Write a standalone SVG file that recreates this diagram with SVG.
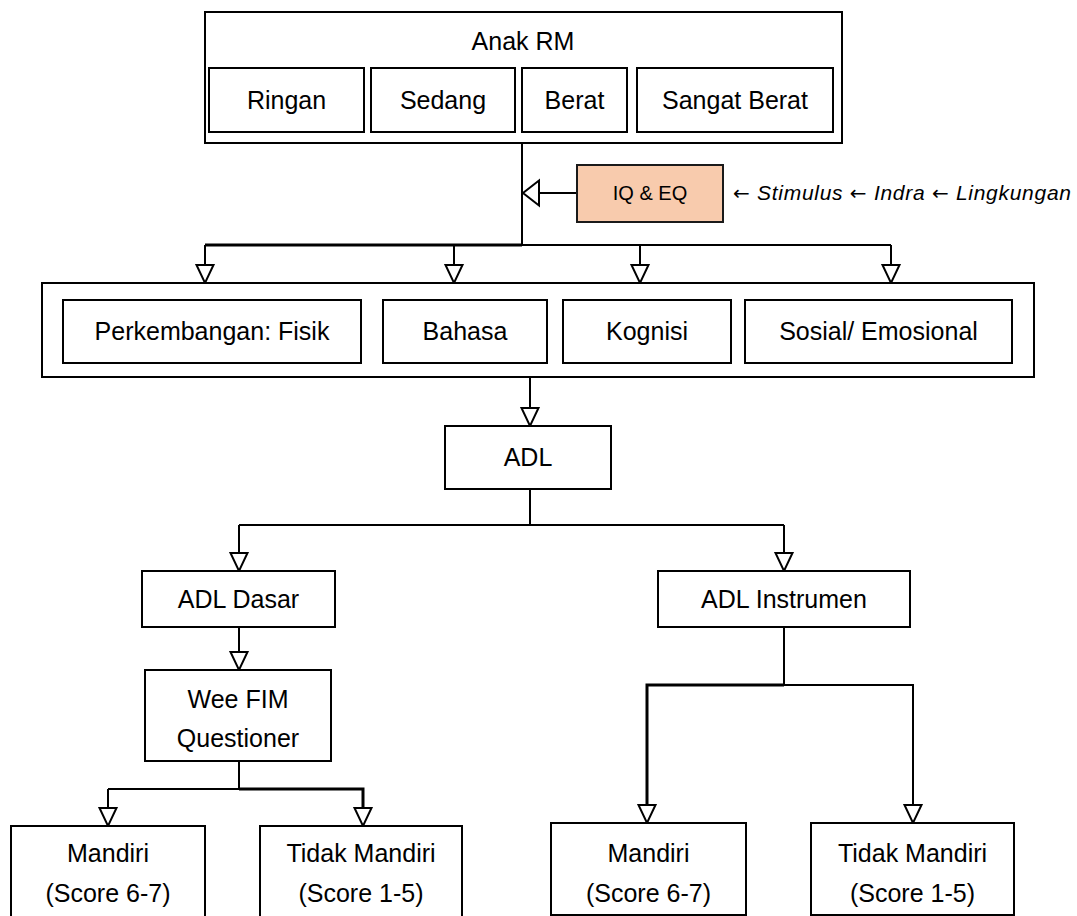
<svg xmlns="http://www.w3.org/2000/svg" xmlns:xlink="http://www.w3.org/1999/xlink" width="1077" height="916" viewBox="0 0 1077 916">
  <style>
    .box { fill: #ffffff; stroke: #000000; stroke-width: 2; }
    .hl { fill: #f8cbad; stroke: #1a1a1a; stroke-width: 2; }
    .lbl { font-family: "Liberation Sans", Arial, sans-serif; font-size: 25px; fill: #000000; text-anchor: middle; }
    .small { font-size: 20px; }
    .note { font-family: "Liberation Sans", Arial, sans-serif; font-size: 21px; font-style: italic; fill: #000000; }
    .arr { font-family: "DejaVu Sans", sans-serif; font-style: normal; font-size: 20px; }
    .wire { fill: none; stroke: #000000; stroke-width: 2; }
    .bold { stroke-width: 3; }
    .head { fill: #ffffff; stroke: #000000; stroke-width: 2; stroke-linejoin: miter; }
  </style>
  <defs>
    <!-- hollow arrowheads, tip at the origin -->
    <polygon id="down" class="head" points="-8.5,-18 8.5,-18 0,0"/>
    <polygon id="left" class="head" points="16,-12.5 16,12.5 0,0"/>
  </defs>

  <rect width="1077" height="916" fill="#ffffff"/>

  <!-- connectors -->
  <g id="connectors">
    <!-- Anak RM to development branches -->
    <path class="wire" d="M522 143 V245"/>
    <path class="wire bold" d="M205 245 H522"/>
    <path class="wire" d="M522 245 H891"/>
    <path class="wire" d="M205 245 V265 M454 245 V265 M640 245 V265 M891 245 V265"/>
    <use xlink:href="#down" x="205" y="283"/>
    <use xlink:href="#down" x="454" y="283"/>
    <use xlink:href="#down" x="640" y="283"/>
    <use xlink:href="#down" x="891" y="283"/>
    <!-- IQ & EQ into the trunk -->
    <path class="wire" d="M577 193 H538"/>
    <use xlink:href="#left" x="523" y="193"/>
    <!-- development to ADL -->
    <path class="wire" d="M530 377 V408"/>
    <use xlink:href="#down" x="530" y="426"/>
    <!-- ADL split -->
    <path class="wire" d="M530 489 V525 M239 525 H784 M239 525 V553 M784 525 V553"/>
    <use xlink:href="#down" x="239" y="571"/>
    <use xlink:href="#down" x="784" y="571"/>
    <!-- ADL Dasar to Wee FIM -->
    <path class="wire" d="M239 627 V652"/>
    <use xlink:href="#down" x="239" y="670"/>
    <!-- Wee FIM split -->
    <path class="wire" d="M239 761 V789 M108 789 H239 M108 789 V808"/>
    <path class="wire bold" d="M239 789 H363 V808"/>
    <use xlink:href="#down" x="108" y="826"/>
    <use xlink:href="#down" x="363" y="826"/>
    <!-- ADL Instrumen split -->
    <path class="wire" d="M784 627 V685 M784 685 H913 V805"/>
    <path class="wire bold" d="M784 685 H647 V805"/>
    <use xlink:href="#down" x="647" y="823"/>
    <use xlink:href="#down" x="913" y="823"/>
  </g>

  <g id="anak-rm">
    <rect class="box" x="205" y="12" width="637" height="131"/>
    <text class="lbl" x="523" y="50">Anak RM</text>
  </g>
  <g id="ringan">
    <rect class="box" x="209" y="68" width="155" height="64"/>
    <text class="lbl" x="286.5" y="109">Ringan</text>
  </g>
  <g id="sedang">
    <rect class="box" x="371" y="68" width="144" height="64"/>
    <text class="lbl" x="443" y="109">Sedang</text>
  </g>
  <g id="berat">
    <rect class="box" x="522" y="68" width="105" height="64"/>
    <text class="lbl" x="574.5" y="109">Berat</text>
  </g>
  <g id="sangat-berat">
    <rect class="box" x="637" y="68" width="196" height="64"/>
    <text class="lbl" x="735" y="109">Sangat Berat</text>
  </g>

  <g id="iq-eq">
    <rect class="hl" x="577" y="165" width="146" height="57"/>
    <text class="lbl small" x="650" y="200">IQ &amp; EQ</text>
  </g>
  <g id="faktor">
    <text class="note" x="733" y="200" textLength="338" lengthAdjust="spacing"><tspan class="arr">←</tspan> Stimulus <tspan class="arr">←</tspan> Indra <tspan class="arr">←</tspan> Lingkungan</text>
  </g>

  <g id="perkembangan">
    <rect class="box" x="42" y="283" width="992" height="94"/>
  </g>
  <g id="fisik">
    <rect class="box" x="63" y="300" width="298" height="63"/>
    <text class="lbl" x="212" y="340">Perkembangan: Fisik</text>
  </g>
  <g id="bahasa">
    <rect class="box" x="383" y="300" width="164" height="63"/>
    <text class="lbl" x="465" y="340">Bahasa</text>
  </g>
  <g id="kognisi">
    <rect class="box" x="563" y="300" width="168" height="63"/>
    <text class="lbl" x="647" y="340">Kognisi</text>
  </g>
  <g id="sosial">
    <rect class="box" x="745" y="300" width="267" height="63"/>
    <text class="lbl" x="878.5" y="340">Sosial/ Emosional</text>
  </g>

  <g id="adl">
    <rect class="box" x="445" y="426" width="166" height="63"/>
    <text class="lbl" x="528" y="466">ADL</text>
  </g>
  <g id="adl-dasar">
    <rect class="box" x="142" y="571" width="193" height="56"/>
    <text class="lbl" x="238.5" y="608">ADL Dasar</text>
  </g>
  <g id="adl-instrumen">
    <rect class="box" x="658" y="571" width="252" height="56"/>
    <text class="lbl" x="784" y="608">ADL Instrumen</text>
  </g>
  <g id="wee-fim">
    <rect class="box" x="145" y="670" width="186" height="91"/>
    <text class="lbl" x="238" y="708">Wee FIM</text>
    <text class="lbl" x="238" y="747">Questioner</text>
  </g>

  <g id="mandiri-dasar">
    <rect class="box" x="11" y="826" width="194" height="95"/>
    <text class="lbl" x="108" y="862">Mandiri</text>
    <text class="lbl" x="108" y="902">(Score 6-7)</text>
  </g>
  <g id="tidak-mandiri-dasar">
    <rect class="box" x="260" y="826" width="202" height="95"/>
    <text class="lbl" x="361" y="862">Tidak Mandiri</text>
    <text class="lbl" x="361" y="902">(Score 1-5)</text>
  </g>
  <g id="mandiri-instrumen">
    <rect class="box" x="551" y="823" width="195" height="92"/>
    <text class="lbl" x="648.5" y="862">Mandiri</text>
    <text class="lbl" x="648.5" y="902">(Score 6-7)</text>
  </g>
  <g id="tidak-mandiri-instrumen">
    <rect class="box" x="811" y="823" width="203" height="92"/>
    <text class="lbl" x="912.5" y="862">Tidak Mandiri</text>
    <text class="lbl" x="912.5" y="902">(Score 1-5)</text>
  </g>
</svg>
